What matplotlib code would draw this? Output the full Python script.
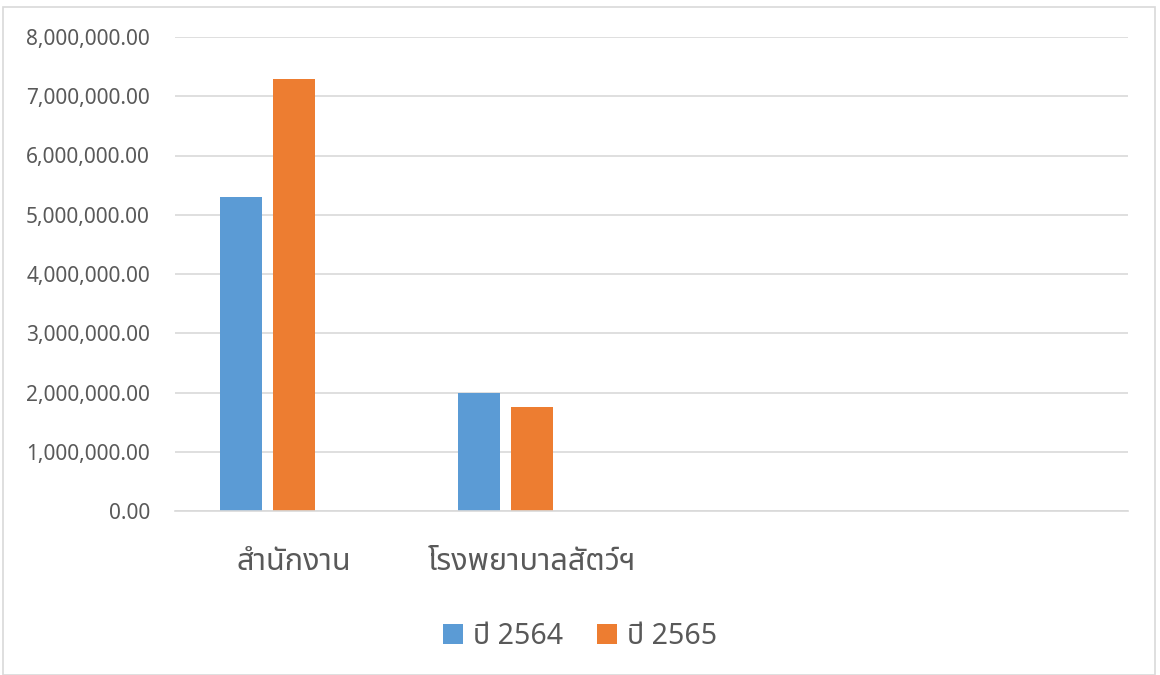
import matplotlib
matplotlib.use("Agg")
import matplotlib.pyplot as plt
from matplotlib.patches import Rectangle
from matplotlib.ticker import FuncFormatter
import numpy as np

categories = ["สำนักงาน", "โรงพยาบาลสัตว์ฯ", "", ""]
series_names = ["ปี 2564", "ปี 2565"]
values_2564 = [5300000, 1990000, 0, 0]
values_2565 = [7290000, 1760000, 0, 0]
colors = ["#5b9bd5", "#ed7d31"]

plt.rcParams["font.family"] = ["Noto Sans Thai", "Noto Sans", "DejaVu Sans"]

fig = plt.figure(figsize=(11.6, 6.75), dpi=100)
ax = fig.add_axes([175 / 1160, 1 - 511 / 675, (1128 - 175) / 1160, (511 - 37) / 675])

x = np.arange(len(categories)) + 0.5
w = 42 / 238
step = 53 / 238
ax.bar(x - step, values_2564, w, color=colors[0], label=series_names[0])
ax.bar(x, values_2565, w, color=colors[1], label=series_names[1])

ax.set_xlim(0, 4)
ax.set_ylim(0, 8000000)
ax.set_yticks(np.arange(0, 8000001, 1000000))
ax.yaxis.set_major_formatter(FuncFormatter(lambda v, p: f"{v:,.2f}"))
ax.grid(axis="y", color="#d9d9d9", linewidth=1.2)
ax.set_axisbelow(True)
for s in ["top", "right", "left"]:
    ax.spines[s].set_visible(False)
ax.spines["bottom"].set_color("#d9d9d9")
ax.spines["bottom"].set_linewidth(1.2)
ax.tick_params(axis="y", length=0, labelsize=15, labelcolor="#595959", pad=18)
ax.tick_params(axis="x", length=0)
ax.set_xticks(x)
ax.set_xticklabels(categories, fontsize=22, color="#595959")
ax.tick_params(axis="x", pad=26)

leg = fig.legend(loc="center", bbox_to_anchor=(0.5, 1 - 636 / 675), ncol=2, frameon=False,
                 fontsize=20.5, handlelength=0.7, handleheight=0.7, columnspacing=1.2,
                 handletextpad=0.35)
for t in leg.get_texts():
    t.set_color("#595959")

fig.patches.append(Rectangle((3 / 1160, 0), 1152 / 1160, 1 - 7 / 675, transform=fig.transFigure,
                             fill=False, edgecolor="#d9d9d9", linewidth=1.2))

fig.savefig("out.png", dpi=100)
